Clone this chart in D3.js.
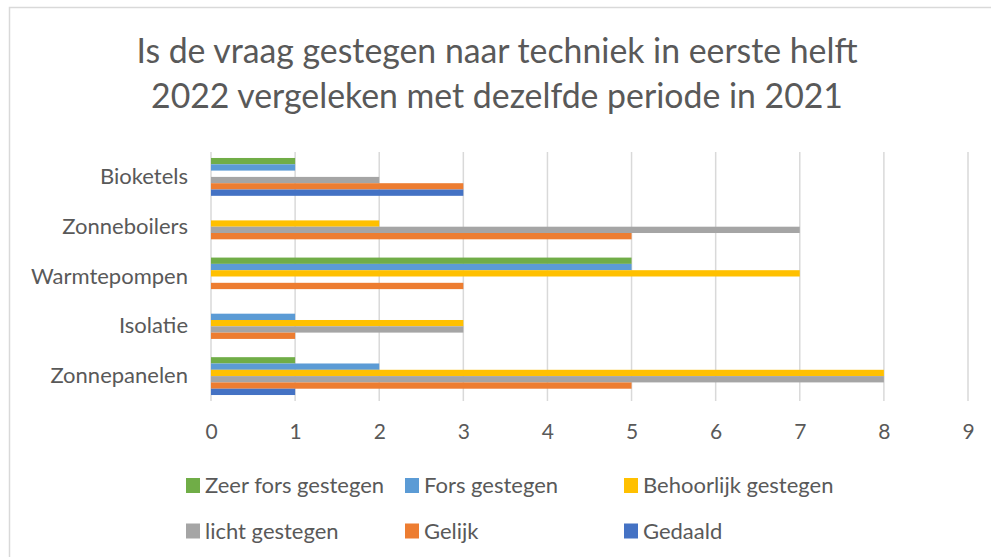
<!DOCTYPE html>
<html>
<head>
<meta charset="utf-8">
<script src="https://cdn.jsdelivr.net/npm/d3@7"></script>
<style>
  body { margin: 0; background: #fff; }
  svg { display: block; font-family: Lato, 'Open Sans', sans-serif; }
</style>
</head>
<body>
<svg width="991" height="557"></svg>
<script>
const categories = ['Bioketels', 'Zonneboilers', 'Warmtepompen', 'Isolatie', 'Zonnepanelen'];
const seriesNames = ['Zeer fors gestegen', 'Fors gestegen', 'Behoorlijk gestegen', 'licht gestegen', 'Gelijk', 'Gedaald'];
const seriesColors = ['#70AD47', '#5B9BD5', '#FFC000', '#A5A5A5', '#ED7D31', '#4472C4'];

// values per series, in category order
const zeerFors   = [1, 0, 5, 0, 1];
const fors       = [1, 0, 5, 1, 2];
const behoorlijk = [0, 2, 7, 3, 8];
const licht      = [2, 7, 0, 3, 8];
const gelijk     = [3, 5, 3, 1, 5];
const gedaald    = [3, 0, 0, 0, 1];
const seriesValues = [zeerFors, fors, behoorlijk, licht, gelijk, gedaald];

const xTicks = [0, 1, 2, 3, 4, 5, 6, 7, 8, 9];
const titleLines = ['Is de vraag gestegen naar techniek in eerste helft', '2022 vergeleken met dezelfde periode in 2021'];

const svg = d3.select('svg');
const textColor = '#595959';

// chart frame
svg.append('rect')
  .attr('x', 9.5).attr('y', 7.5)
  .attr('width', 1000).attr('height', 600)
  .attr('fill', '#fff')
  .attr('stroke', '#d9d9d9')
  .attr('stroke-width', 1.5);

const plot = { left: 211, right: 968, top: 152, bottom: 401 };

const xScale = d3.scaleLinear()
  .domain([0, 9])
  .range([plot.left, plot.right]);

const yScale = d3.scaleBand()
  .domain(categories)
  .range([plot.top, plot.bottom])
  .paddingInner(0.24)
  .paddingOuter(0.12);

const ySub = d3.scaleBand()
  .domain(seriesNames)
  .range([0, yScale.bandwidth()]);

// title
svg.append('g').selectAll('text').data(titleLines)
  .enter().append('text')
    .attr('x', 497)
    .attr('y', (d, i) => 63 + i * 45)
    .attr('text-anchor', 'middle')
    .attr('font-size', 33.8)
    .attr('fill', textColor)
    .text(d => d);

// gridlines
svg.append('g').selectAll('line').data(xTicks)
  .enter().append('line')
    .attr('x1', d => xScale(d)).attr('x2', d => xScale(d))
    .attr('y1', plot.top).attr('y2', plot.bottom)
    .attr('stroke', '#d9d9d9')
    .attr('stroke-width', 1.5);

// bars
const rows = [];
categories.forEach((c, ci) => {
  seriesNames.forEach((s, si) => {
    rows.push({ cat: c, series: s, value: seriesValues[si][ci], color: seriesColors[si] });
  });
});

svg.append('g').selectAll('rect').data(rows.filter(d => d.value > 0))
  .enter().append('rect')
    .attr('x', xScale(0))
    .attr('y', d => yScale(d.cat) + ySub(d.series))
    .attr('width', d => xScale(d.value) - xScale(0))
    .attr('height', ySub.bandwidth())
    .attr('fill', d => d.color);

// x axis labels
const xAxisG = svg.append('g')
  .attr('transform', `translate(0,${plot.bottom})`)
  .call(d3.axisBottom(xScale).tickValues(xTicks).tickSize(0).tickPadding(23));
xAxisG.select('.domain').remove();
xAxisG.selectAll('text')
  .attr('font-size', 21)
  .attr('font-family', 'Lato, sans-serif')
  .attr('fill', textColor);

// y axis labels
const yAxisG = svg.append('g')
  .attr('transform', `translate(${plot.left},0)`)
  .call(d3.axisLeft(yScale).tickSize(0).tickPadding(23));
yAxisG.select('.domain').remove();
yAxisG.selectAll('text')
  .attr('font-size', 22)
  .attr('font-family', 'Lato, sans-serif')
  .attr('fill', textColor);

// legend
const legendX = [186, 405, 624];
const legendY = [485.5, 531];
const legend = svg.append('g').selectAll('g').data(seriesNames)
  .enter().append('g')
    .attr('transform', (d, i) => `translate(${legendX[i % 3]},${legendY[Math.floor(i / 3)]})`);
legend.append('rect')
  .attr('x', 0).attr('y', -7.5)
  .attr('width', 14).attr('height', 15)
  .attr('fill', (d, i) => seriesColors[i]);
legend.append('text')
  .attr('x', 19)
  .attr('dy', '0.36em')
  .attr('font-size', 22)
  .attr('fill', textColor)
  .text(d => d);
</script>
</body>
</html>
